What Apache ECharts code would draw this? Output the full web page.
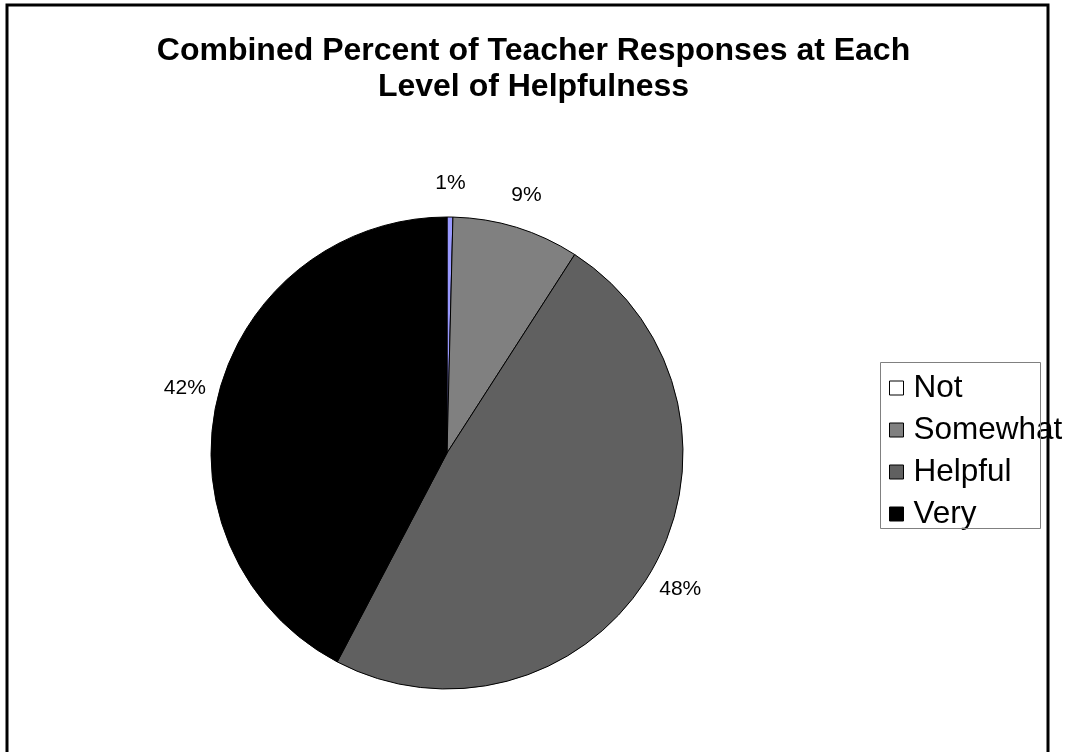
<!DOCTYPE html>
<html>
<head>
<meta charset="utf-8">
<script src="https://cdn.jsdelivr.net/npm/echarts@6/dist/echarts.min.js"></script>
<style>
html,body{margin:0;padding:0;background:#fff;}
#chart{width:1067px;height:752px;}
</style>
</head>
<body>
<div id="chart"></div>
<script>
const titleText = 'Combined Percent of Teacher Responses at Each\nLevel of Helpfulness';
const categories = ['Not', 'Somewhat', 'Helpful', 'Very'];
const values = [0.4, 8.7, 48.6, 42.3];
const percentLabels = ['1%', '9%', '48%', '42%'];
const sliceColors = ['#9999ff', '#808080', '#606060', '#000000'];
const legendColors = ['#ffffff', '#808080', '#606060', '#000000'];

const chart = echarts.init(document.getElementById('chart'), null, {renderer: 'canvas'});
const FONT = 'Liberation Sans, Arial, sans-serif';

chart.setOption({
  animation: false,
  backgroundColor: '#ffffff',
  title: {
    text: titleText,
    left: 'center',
    top: 28,
    textStyle: {fontFamily: FONT, fontSize: 32, fontWeight: 'bold', color: '#000', lineHeight: 36}
  },
  legend: {
    orient: 'vertical',
    left: 884,
    top: 367,
    itemWidth: 14,
    itemHeight: 14,
    itemGap: 10,
    icon: 'rect',
    selectedMode: false,
    textStyle: {fontFamily: FONT, fontSize: 31.5, color: '#000', lineHeight: 30, padding: [0, 0, 0, 5]},
    data: categories.map((c, i) => ({
      name: c,
      itemStyle: {color: legendColors[i], borderColor: '#000', borderWidth: 1}
    }))
  },
  graphic: [
    {type: 'rect', shape: {x: 7, y: 5, width: 1041, height: 800}, style: {fill: 'none', stroke: '#000', lineWidth: 3}, silent: true, z: 100},
    {type: 'rect', shape: {x: 880.5, y: 362.5, width: 160, height: 166}, style: {fill: 'none', stroke: '#808080', lineWidth: 1}, silent: true, z: 50}
  ],
  series: [
    {
      type: 'pie',
      center: [447, 453],
      radius: 236,
      startAngle: 90,
      clockwise: true,
      avoidLabelOverlap: false,
      label: {show: false},
      labelLine: {show: false},
      emphasis: {disabled: true},
      itemStyle: {borderColor: '#000', borderWidth: 1},
      data: categories.map((c, i) => ({name: c, value: values[i], itemStyle: {color: sliceColors[i]}}))
    },
    {
      type: 'pie',
      center: [447, 453],
      radius: [244, 290],
      startAngle: 90,
      clockwise: true,
      silent: true,
      avoidLabelOverlap: false,
      emphasis: {disabled: true},
      itemStyle: {color: 'rgba(0,0,0,0)', borderWidth: 0},
      label: {
        show: true,
        position: 'inside',
        rotate: 0,
        fontFamily: FONT,
        fontSize: 21,
        color: '#000',
        formatter: p => percentLabels[p.dataIndex]
      },
      labelLine: {show: false},
      data: categories.map((c, i) => ({name: c, value: values[i]}))
    }
  ]
});
</script>
</body>
</html>
